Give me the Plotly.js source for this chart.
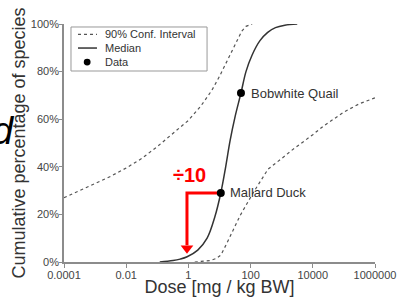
<!DOCTYPE html>
<html>
<head>
<meta charset="utf-8">
<script src="https://cdn.plot.ly/plotly-3.0.1.min.js"></script>
<style>html,body{margin:0;padding:0;background:#fff;}#chart{width:397px;height:297px;}</style>
</head>
<body>
<div id="chart"></div>
<script>
// Median curve (dose mg/kg BW, cumulative %)
const medianDose = [0.12, 0.32, 0.54, 0.91, 2.0, 4.0, 7.1, 11, 15.8, 21.9, 31.6, 49, 71, 112, 200, 355, 630, 1260, 3160];
const medianPct  = [0, 0.6, 1.2, 2.2, 5, 10, 19, 29, 40, 51, 61, 71, 80, 87, 93, 96.5, 98.5, 99.5, 100];
// Lower-dose bound of the 90% confidence interval
const ciLowDose = [0.0001, 0.000316, 0.001, 0.00316, 0.01, 0.0316, 0.1, 0.316, 1, 2.5, 5.6, 10, 17.8, 31.6, 52, 71, 112];
const ciLowPct  = [27, 30, 33, 36, 39.5, 43.5, 48.5, 54, 59.5, 65.5, 72, 78, 84.5, 91, 97, 99, 100];
// Upper-dose bound of the 90% confidence interval
const ciHighDose = [1.6, 3.2, 5, 7.9, 11.2, 17.4, 28, 46, 120, 363, 1000, 2140, 10000, 21400, 100000, 316000, 1000000];
const ciHighPct  = [0, 0.2, 0.6, 1.5, 3, 8, 14, 19.5, 29, 39, 43.5, 47, 53.5, 57, 63, 66.5, 69];
// Data points
const speciesNames = ["Mallard Duck", "Bobwhite Quail"];
const speciesDose  = [11, 49];
const speciesPct   = [29, 71];
// ÷10 extrapolation arrow
const arrowDose = [11, 0.9, 0.9];
const arrowPct  = [29, 29, 7];
const arrowTipDose = [0.9];
const arrowTipPct  = [5.8];
// Axis ticks
const xTickVals = [0.0001, 0.01, 1, 100, 10000, 1000000];
const xTickText = ["0.0001", "0.01", "1", "100", "10000", "1000000"];
const yTickVals = [0, 20, 40, 60, 80, 100];
const yTickText = ["0%", "20%", "40%", "60%", "80%", "100%"];
// Legend labels
const legendLabels = ["90% Conf. Interval", "Median", "Data"];

const FONT = "Liberation Sans, Arial, sans-serif";

const traces = [
  {x: ciLowDose, y: ciLowPct, mode: "lines", name: legendLabels[0],
   line: {color: "#555", width: 1.2, dash: "dot"}},
  {x: ciHighDose, y: ciHighPct, mode: "lines",
   line: {color: "#555", width: 1.2, dash: "dot"}},
  {x: medianDose, y: medianPct, mode: "lines", name: legendLabels[1],
   line: {color: "#333", width: 1.5, shape: "spline"}},
  {x: arrowDose, y: arrowPct, mode: "lines",
   line: {color: "#ff0000", width: 3}},
  {x: arrowTipDose, y: arrowTipPct, mode: "markers",
   marker: {symbol: "triangle-down", size: 11, color: "#ff0000"}},
  {x: speciesDose, y: speciesPct, mode: "markers", name: legendLabels[2], text: speciesNames,
   marker: {color: "#000", size: 8}}
];

// Hand-drawn legend (compact, like the reference)
const legRowY = [0.956, 0.899, 0.840];
const legShapes = [
  {type: "rect", xref: "paper", yref: "paper", x0: 0.0225, x1: 0.46, y0: 0.8025, y1: 0.9874,
   line: {color: "#999", width: 1}, fillcolor: "#fff", layer: "above"},
  {type: "line", xref: "paper", yref: "paper", x0: 0.045, x1: 0.106, y0: legRowY[0], y1: legRowY[0],
   line: {color: "#555", width: 1.2, dash: "dot"}, layer: "above"},
  {type: "line", xref: "paper", yref: "paper", x0: 0.045, x1: 0.106, y0: legRowY[1], y1: legRowY[1],
   line: {color: "#333", width: 1.5}, layer: "above"},
  {type: "circle", xref: "paper", yref: "paper", x0: 0.0635, x1: 0.0855, y0: legRowY[2] - 0.0142, y1: legRowY[2] + 0.0142,
   line: {color: "#000", width: 0}, fillcolor: "#000", layer: "above"}
];
const legAnn = legendLabels.map((t, i) => ({
  xref: "paper", yref: "paper", x: 0.127, y: legRowY[i], xanchor: "left", yanchor: "middle",
  text: t, showarrow: false, font: {family: FONT, size: 11, color: "#333"}
}));

const layout = {
  width: 397, height: 297,
  margin: {l: 64, r: 22, t: 24, b: 35, pad: 0},
  paper_bgcolor: "#fff", plot_bgcolor: "#fff",
  font: {family: FONT, color: "#444", size: 11},
  showlegend: false,
  xaxis: {type: "log", range: [-4, 6], tickvals: xTickVals, ticktext: xTickText,
          showgrid: false, zeroline: false, showline: true, linecolor: "#8c8c8c", linewidth: 1.8,
          ticks: "outside", ticklen: 4, tickcolor: "#8c8c8c", tickwidth: 1, ticklabelstandoff: -2,
          tickfont: {family: FONT, size: 11, color: "#444"},
          title: {text: "Dose [mg / kg BW]", font: {family: FONT, size: 18, color: "#333"}, standoff: 5}},
  yaxis: {range: [0, 100], tickvals: yTickVals, ticktext: yTickText,
          showgrid: false, zeroline: false, showline: true, linecolor: "#8c8c8c", linewidth: 1.8,
          ticks: "outside", ticklen: 3, tickcolor: "#8c8c8c", tickwidth: 1, ticklabelstandoff: -2,
          tickfont: {family: FONT, size: 11, color: "#444"},
          title: {text: "Cumulative percentage of species", font: {family: FONT, size: 18, color: "#333"}, standoff: 0}},
  shapes: legShapes,
  annotations: legAnn.concat([
    {xref: "paper", yref: "paper", x: 0.595, y: 0.71, xanchor: "left", yanchor: "middle",
     text: speciesNames[1], showarrow: false, font: {family: FONT, size: 13, color: "#333"}},
    {xref: "paper", yref: "paper", x: 0.527, y: 0.29, xanchor: "left", yanchor: "middle",
     text: speciesNames[0], showarrow: false, font: {family: FONT, size: 13, color: "#333"}},
    {xref: "paper", yref: "paper", x: 0.405, y: 0.366, xanchor: "center", yanchor: "middle",
     text: "<b>÷10</b>", showarrow: false, font: {family: FONT, size: 20, color: "#ff0000"}},
    {xref: "paper", yref: "paper", x: -0.152, y: 0.55, xanchor: "right", yanchor: "middle",
     text: "<i>d</i>", showarrow: false, font: {family: FONT, size: 38, color: "#000"}}
  ])
};

Plotly.newPlot("chart", traces, layout, {staticPlot: true, displayModeBar: false});
</script>
</body>
</html>
